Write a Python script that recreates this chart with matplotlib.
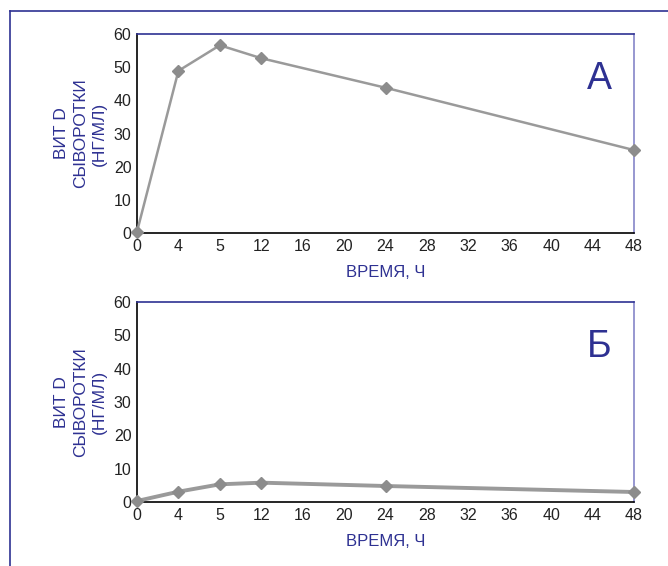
import matplotlib
matplotlib.use("Agg")
import matplotlib.pyplot as plt
from matplotlib.lines import Line2D

# tick labels along x (evenly spaced categories)
x_ticks = ["0", "4", "5", "12", "16", "20", "24", "28", "32", "36", "40", "44", "48"]
# hours at which vit D was measured
hours = ["0", "4", "5", "12", "24", "48"]
vit_a = [0.4, 48.9, 56.6, 52.7, 43.8, 25.0]
vit_b = [0.3, 3.1, 5.3, 5.8, 4.8, 3.0]
panel_letters = ["А", "Б"]

navy = "#2e3192"
plt.rcParams["font.family"] = ["Liberation Sans", "DejaVu Sans"]

fig = plt.figure(figsize=(6.68, 5.66), dpi=100)

# outer frame (left and top)
fig.add_artist(Line2D([9.5 / 668, 9.5 / 668], [0, 1 - 11 / 566], color=navy, lw=1.2))
fig.add_artist(Line2D([9.5 / 668, 1], [1 - 11 / 566, 1 - 11 / 566], color=navy, lw=1.2))

left, width = 137 / 668, (634 - 137) / 668
boxes = [(left, 1 - 233 / 566, width, 199 / 566),
         (left, 1 - 502 / 566, width, 200 / 566)]
series = [vit_a, vit_b]
line_w = [1.8, 2.8]

for box, vals, letter, lw in zip(boxes, series, panel_letters, line_w):
    ax = fig.add_axes(box)
    xs = [x_ticks.index(h) for h in hours]
    ax.plot(xs, vals, color="#9a9a9a", lw=lw, marker="D", ms=6,
            mfc="#8c8c8c", mec="#8c8c8c", clip_on=False, zorder=3)
    ax.set_xlim(0, len(x_ticks) - 1)
    ax.set_ylim(0, 60)
    ax.set_xticks(range(len(x_ticks)))
    ax.set_xticklabels(x_ticks)
    ax.set_yticks(range(0, 61, 10))
    ax.tick_params(length=0, labelsize=11.5, colors="#222222", pad=4)
    ax.spines["left"].set_color("black")
    ax.spines["bottom"].set_color("black")
    ax.spines["top"].set_color(navy)
    ax.spines["right"].set_color("#8585c8")
    for s in ax.spines.values():
        s.set_linewidth(1.2)
    ax.set_xlabel("ВРЕМЯ, Ч", color=navy, fontsize=12, labelpad=8)
    ax.set_ylabel("ВИТ D\nСЫВОРОТКИ\n(НГ/МЛ)", color=navy, fontsize=12.5,
                  linespacing=1.3, labelpad=5)
    ax.text(0.93, 0.775, letter, transform=ax.transAxes, color=navy,
            fontsize=27, ha="center", va="center")

fig.savefig("out.png", dpi=100)
